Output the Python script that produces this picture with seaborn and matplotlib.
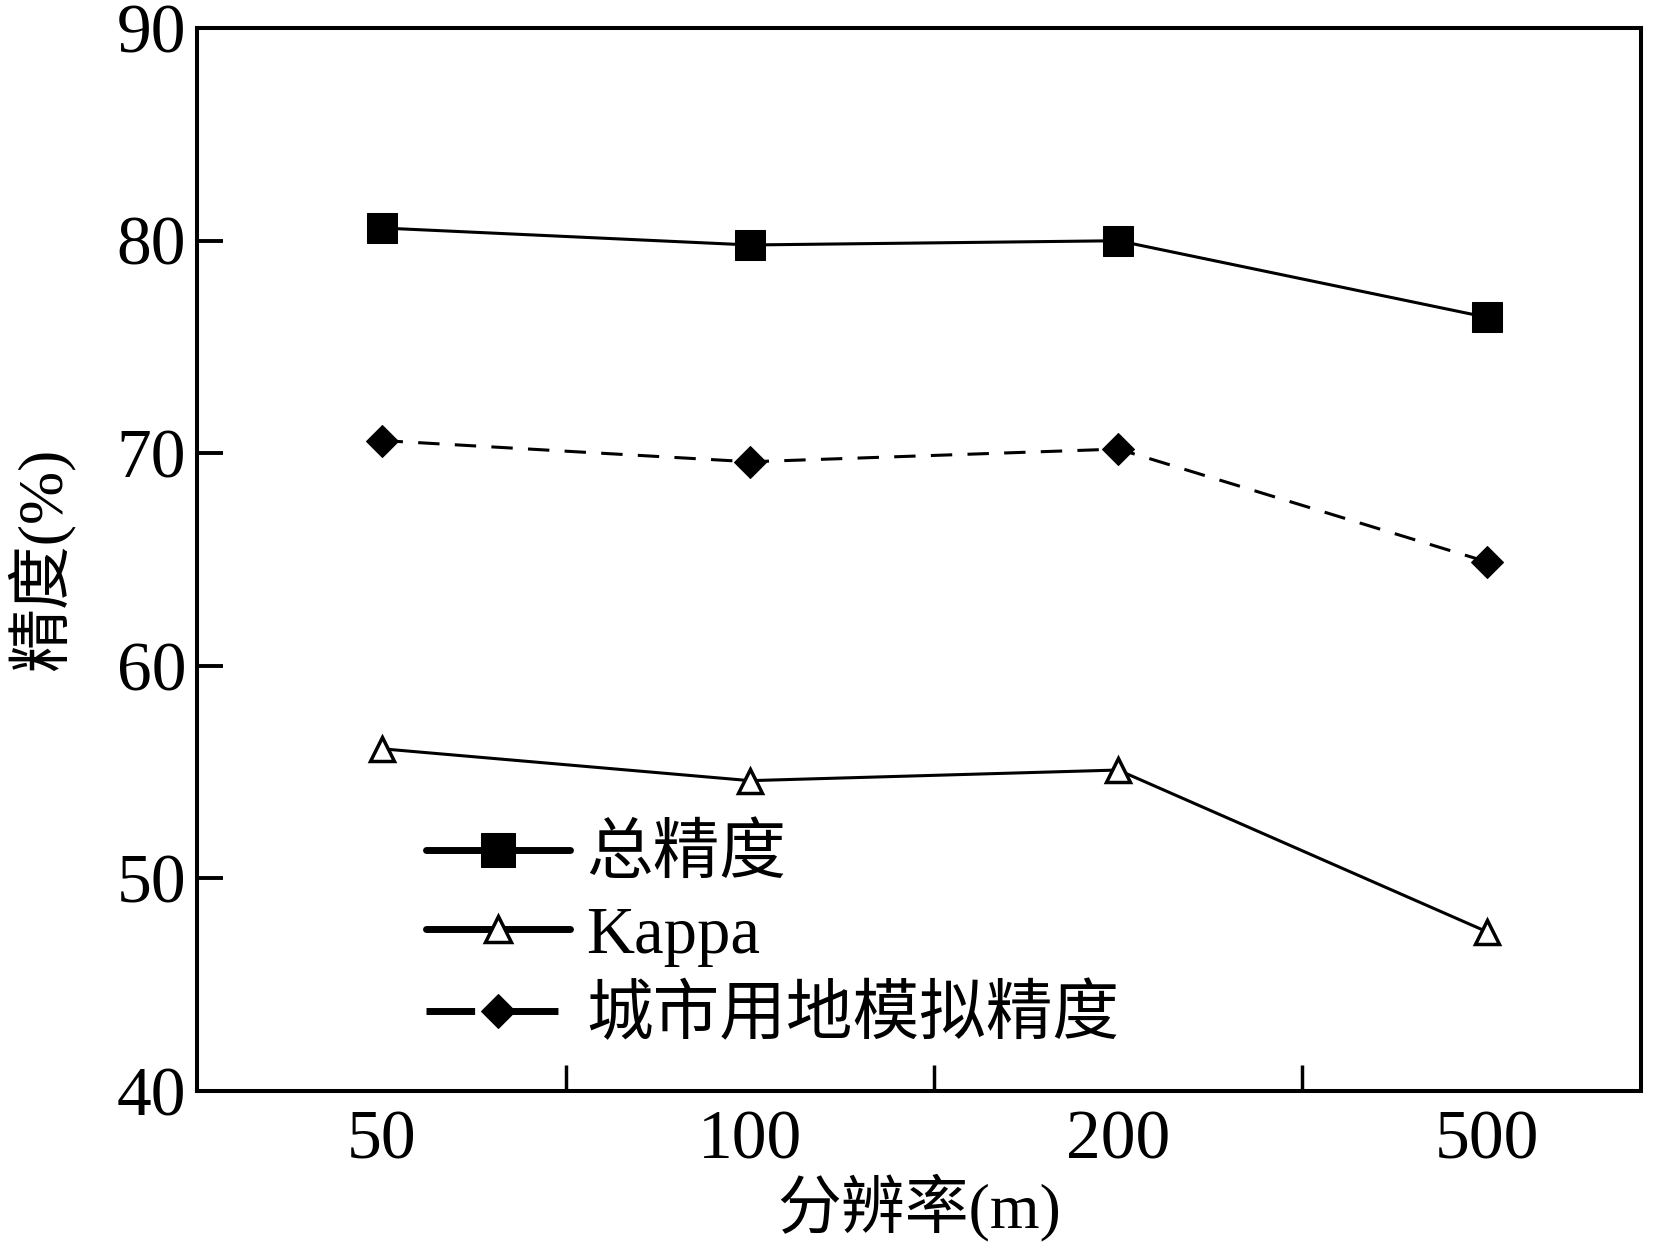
import numpy as np
import pandas as pd
import seaborn as sns
import matplotlib
matplotlib.use('Agg')
import matplotlib.pyplot as plt

# data
resolutions = ['50', '100', '200', '500']
overall_acc = [80.6, 79.8, 80.0, 76.4]
kappa = [56.1, 54.6, 55.1, 47.5]
urban_acc = [70.6, 69.6, 70.2, 64.9]
y_ticks = [40, 50, 60, 70, 80, 90]

sns.set_style('ticks')
plt.rcParams['font.family'] = ['Liberation Serif', 'Noto Sans CJK SC']
plt.rcParams['axes.unicode_minus'] = False
plt.rcParams['text.color'] = 'black'
plt.rcParams['axes.labelcolor'] = 'black'
plt.rcParams['xtick.color'] = 'black'
plt.rcParams['ytick.color'] = 'black'

fig = plt.figure(figsize=(16.73, 12.46), dpi=100)
ax = fig.add_axes([0.118, 0.1244, 0.863, 0.853])

pos = np.arange(len(resolutions))
df = pd.DataFrame({'pos': pos, 'oa': overall_acc, 'kappa': kappa, 'urban': urban_acc})

sns.lineplot(data=df, x='pos', y='oa', ax=ax, color='black', lw=2.2,
             marker='s', markersize=22, markeredgecolor='black',
             markerfacecolor='black', label='总精度')
sns.lineplot(data=df, x='pos', y='kappa', ax=ax, color='black', lw=2.2,
             marker='^', markersize=17, markeredgewidth=2.5,
             markeredgecolor='black', markerfacecolor='white', label='Kappa')
sns.lineplot(data=df, x='pos', y='urban', ax=ax, color='black', lw=2.2,
             linestyle=(0, (7, 5)), marker='D', markersize=16,
             markeredgecolor='black', markerfacecolor='black',
             label='城市用地模拟精度')

ax.set_xlim(-0.5, 3.42)
ax.set_ylim(40, 90)
ax.set_yticks(y_ticks)
ax.set_xticks(pos)
ax.set_xticklabels(resolutions)
ax.set_xticks(pos[:-1] + 0.5, minor=True)
ax.tick_params(axis='x', which='major', length=0, labelsize=50, pad=14)
ax.tick_params(axis='x', which='minor', direction='in', length=19, width=2.5)
ax.tick_params(axis='y', direction='in', length=19, width=2.8, labelsize=50, pad=8)

for s in ax.spines.values():
    s.set_linewidth(2.9)
    s.set_color('black')

ax.set_xlabel('分辨率(m)', fontsize=46, labelpad=0)
ax.set_ylabel('精度(%)', fontsize=46, labelpad=30)

leg = ax.legend(loc='upper left', bbox_to_anchor=(0.14, 0.275), frameon=False,
                fontsize=48, handlelength=2.16, handletextpad=0.24,
                labelspacing=0.28, borderaxespad=0, markerscale=1.1)
for ln in leg.get_lines():
    ln.set_linewidth(5)

fig.savefig('out.png', dpi=100, facecolor='white')
plt.close(fig)
